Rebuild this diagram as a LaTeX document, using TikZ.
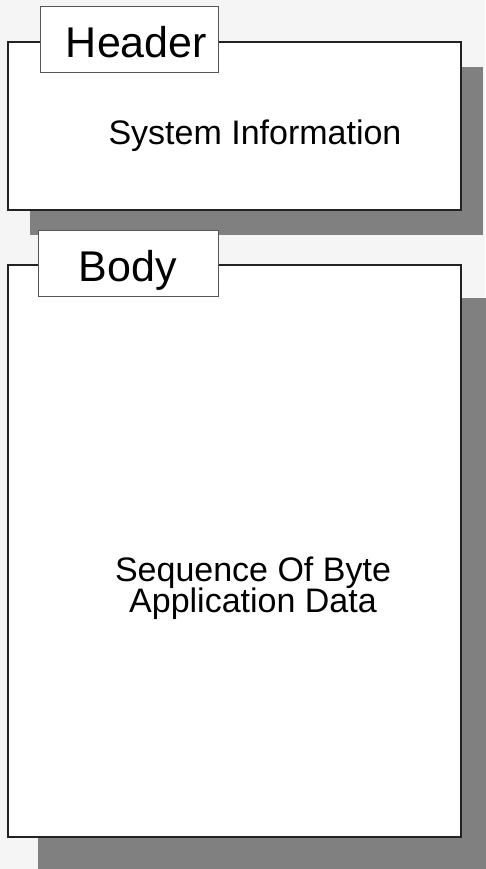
\documentclass[tikz,border=0pt]{standalone}
\usepackage{fontspec}
\setmainfont{Liberation Sans}
\usepackage{xcolor}
\usepackage{tikz}
\usetikzlibrary{shadows, positioning}
\definecolor{fundo}{HTML}{F5F5F5}
\definecolor{sombra}{HTML}{808080}
\definecolor{borda}{HTML}{222222}
\definecolor{bordaaba}{HTML}{555555}

\begin{document}
\begin{tikzpicture}[x=1pt, y=-1pt,
    caixa/.style={draw=borda, line width=1.2pt, fill=white, minimum width=453pt},
    aba/.style={draw=bordaaba, line width=0.8pt, fill=white, minimum height=66pt,
        font=\fontsize{43}{52}\selectfont, text height=36.5pt, text depth=0pt},
    texto/.style={align=center, font=\fontsize{34}{28}\selectfont}
]
    \fill[fundo] (0,0) rectangle (485,869);
    \useasboundingbox (0,0) rectangle (485,869);

    % header block
    \node[caixa, minimum height=168pt,
        drop shadow={shadow xshift=22pt, shadow yshift=-25pt, fill=sombra, opacity=1}]
        (cabecalho) at (234.5, 126) {};
    \node[aba, minimum width=178pt, text width=156pt, align=right, inner xsep=11pt]
        (abacab) at (129, 39) {Header};
    \node[texto] (infosis) at (255, 136) {System Information};

    % body block
    \node[caixa, minimum height=572pt,
        drop shadow={shadow xshift=30pt, shadow yshift=-33pt, fill=sombra, opacity=1}]
        (corpo) at (234.5, 551) {};
    \node[aba, minimum width=180pt] (abacorpo) at (128, 263.5) {Body};
    \node[texto] (dados) at (253, 588) {Sequence Of Byte\\[-2pt]Application Data};
\end{tikzpicture}
\end{document}
